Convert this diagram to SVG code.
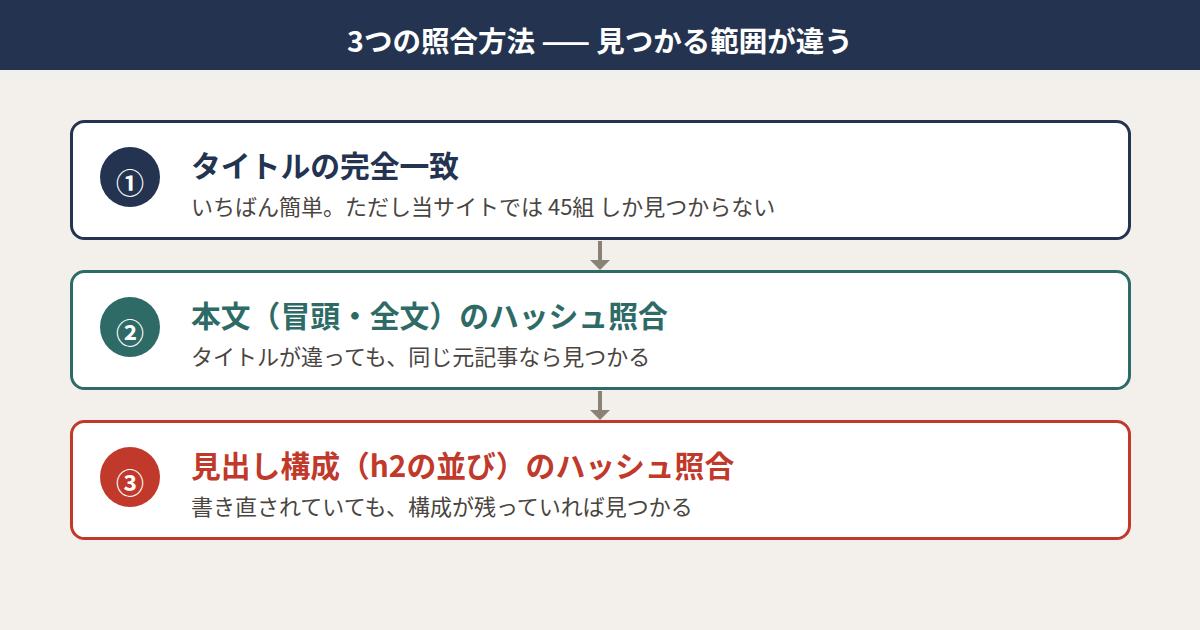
<svg xmlns="http://www.w3.org/2000/svg" width="1200" height="630" viewBox="0 0 1200 630">
<defs>
<style>
.t{font-family:"Noto Sans CJK JP","Noto Sans",sans-serif}
.h{font-size:28.5px;font-weight:700;fill:#ffffff}
.box{fill:#ffffff;stroke-width:3}
.ttl{font-size:29.8px;font-weight:700}
.sub{font-size:22px;fill:#4a4540}
.num{font-size:28px;font-weight:700;fill:#ffffff}
.ar{stroke:#8a8275;stroke-width:4;fill:none}
</style>
<marker id="ah" markerWidth="2.5" markerHeight="5" refX="0" refY="2.5" orient="auto" markerUnits="strokeWidth">
<path d="M0,0 L2.5,2.5 L0,5 Z" fill="#8a8275"/>
</marker>
</defs>
<rect width="1200" height="630" fill="#f3f0eb"/>
<g id="header">
<rect x="0" y="0" width="1200" height="70" fill="#233350"/>
<text class="t h" x="600" y="52" text-anchor="middle">3つの照合方法 —— 見つかる範囲が違う</text>
</g>
<g id="connectors">
<line class="ar" x1="600" y1="241" x2="600" y2="260" marker-end="url(#ah)"/>
<line class="ar" x1="600" y1="391" x2="600" y2="410" marker-end="url(#ah)"/>
</g>
<g id="node1">
<rect class="box" x="71.5" y="121.5" width="1058" height="117" rx="13" stroke="#233350"/>
<circle cx="130" cy="177" r="30" fill="#233350"/>
<text class="t num" x="130" y="194" text-anchor="middle">①</text>
<text class="t ttl" x="191" y="177" fill="#233350">タイトルの完全一致</text>
<text class="t sub" x="191" y="215">いちばん簡単。ただし当サイトでは 45組 しか見つからない</text>
</g>
<g id="node2">
<rect class="box" x="71.5" y="271.5" width="1058" height="117" rx="13" stroke="#2e6b66"/>
<circle cx="130" cy="327" r="30" fill="#2e6b66"/>
<text class="t num" x="130" y="344" text-anchor="middle">②</text>
<text class="t ttl" x="191" y="327" fill="#2e6b66">本文（冒頭・全文）のハッシュ照合</text>
<text class="t sub" x="191" y="365">タイトルが違っても、同じ元記事なら見つかる</text>
</g>
<g id="node3">
<rect class="box" x="71.5" y="421.5" width="1058" height="117" rx="13" stroke="#c0392b"/>
<circle cx="130" cy="477" r="30" fill="#c0392b"/>
<text class="t num" x="130" y="494" text-anchor="middle">③</text>
<text class="t ttl" x="191" y="477" fill="#c0392b">見出し構成（h2の並び）のハッシュ照合</text>
<text class="t sub" x="191" y="515">書き直されていても、構成が残っていれば見つかる</text>
</g>
</svg>
